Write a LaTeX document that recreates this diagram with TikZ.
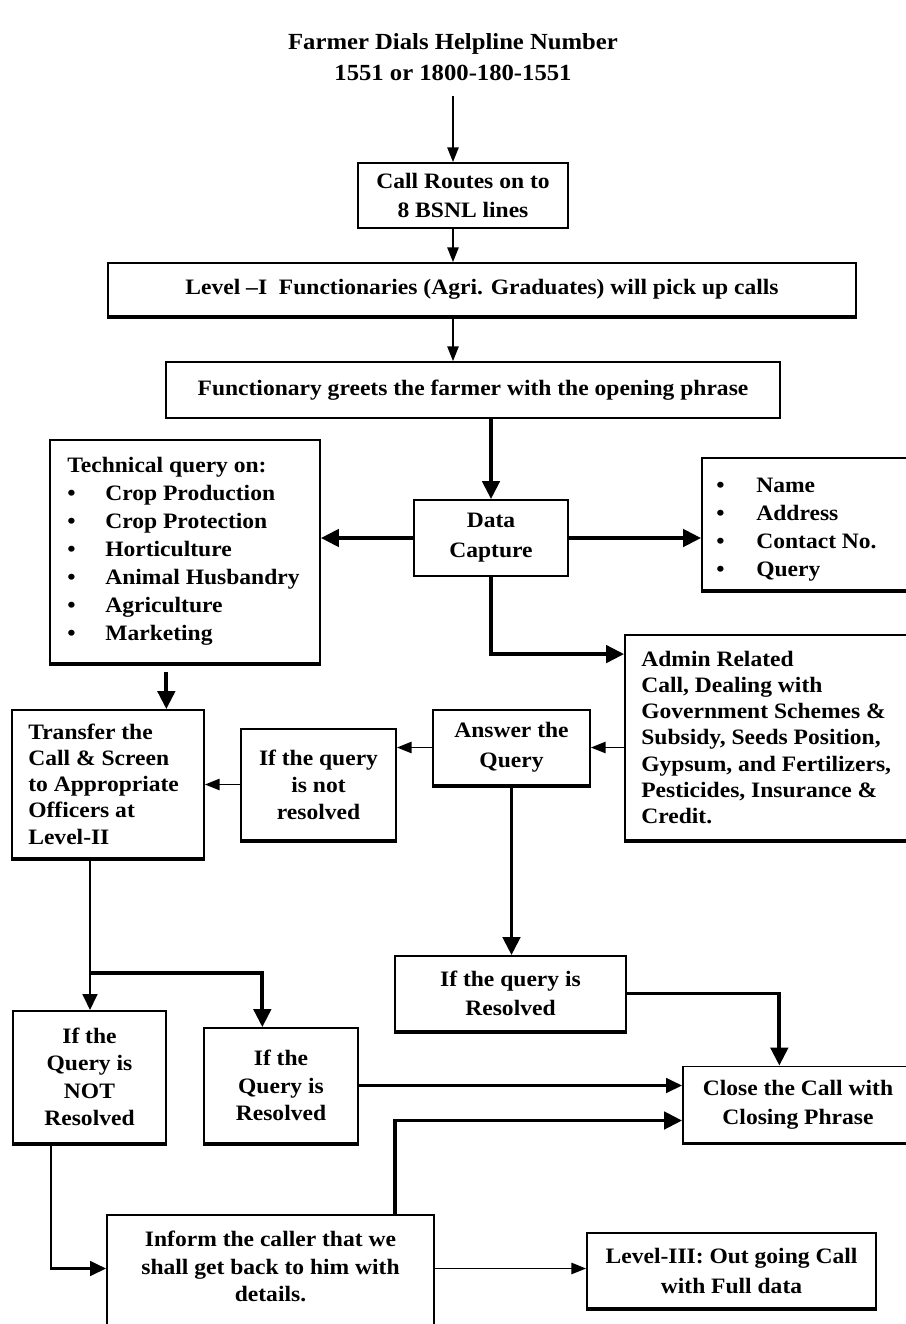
\documentclass[tikz,border=0pt]{standalone}
\usepackage{fontspec}
\setmainfont{Liberation Serif}[FakeStretch=1.07]
\usetikzlibrary{arrows.meta}
\newcommand\fsz[1]{\fontsize{16.5}{#1}\selectfont\bfseries}
\newcommand\bul[1]{\makebox[#1][l]{\textbullet}}
\begin{document}
\begin{tikzpicture}[x=0.75pt,y=-0.75pt,
  box/.style={draw, line width=1.4pt, inner sep=0pt, align=center, font=\fsz{20.5}},
  lbl/.style={inner sep=0pt, align=left, anchor=west},
  thinA/.style={line width=1.1pt, -{Triangle[length=11pt,width=8.5pt]}},
  medA/.style={line width=2pt, -{Triangle[length=12pt,width=11pt]}},
  thkA/.style={line width=2.8pt, -{Triangle[length=13.5pt,width=13pt]}}]
\path[use as bounding box, fill=white] (0,0) rectangle (906,1324);
\clip (0,0) rectangle (906,1324);

\node[font=\fontsize{17.3}{23}\selectfont\bfseries, align=center] (title) at (453,57)
  {Farmer Dials Helpline Number\\1551 or 1800-180-1551};
\coordinate (start) at (453,96);

\node[box, minimum width=157.5pt, minimum height=48.75pt, font=\fsz{22}] (routes) at (463,195.5)
  {Call Routes on to\\8 BSNL lines};
\node[box, minimum width=561pt, minimum height=39.75pt] (level1) at (482,289.5)
  {Level –I\ \ Functionaries (Agri. Graduates) will pick up calls};
\node[box, minimum width=460.5pt, minimum height=42pt] (greets) at (473,390)
  {Functionary greets the farmer with the opening phrase};
\node[box, minimum width=115.5pt, minimum height=57pt, font=\fsz{22.5}] (data) at (491,538)
  {Data\\Capture};

\node[box, minimum width=202.5pt, minimum height=167.25pt] (tech) at (185,551.5) {};
\node[lbl, font=\fsz{21}] (techtxt) at ([xshift=13.5pt]tech.west)
  {Technical query on:\\\bul{28.5pt}Crop Production\\\bul{28.5pt}Crop Protection\\\bul{28.5pt}Horticulture\\\bul{28.5pt}Animal Husbandry\\\bul{28.5pt}Agriculture\\\bul{28.5pt}Marketing};

\node[box, minimum width=163.5pt, minimum height=99pt] (name) at (811,524) {};
\node[lbl, font=\fsz{21}] (nametxt) at ([xshift=11.25pt,yshift=-4.5pt]name.west)
  {\bul{30pt}Name\\\bul{30pt}Address\\\bul{30pt}Contact No.\\\bul{30pt}Query};

\node[box, minimum width=221.25pt, minimum height=153.75pt] (admin) at (772.5,737.5) {};
\node[lbl, font=\fsz{19.7}] (admintxt) at ([xshift=12.75pt]admin.west)
  {Admin Related\\Call, Dealing with\\Government Schemes \&\\Subsidy, Seeds Position,\\Gypsum, and Fertilizers,\\Pesticides, Insurance \&\\Credit.};

\node[box, minimum width=117.75pt, minimum height=56.25pt, font=\fsz{22.5}] (answer) at (511.5,747.5)
  {Answer the\\Query};
\node[box, minimum width=116.25pt, minimum height=83.25pt, font=\fsz{20.25}] (notres) at (318.5,784.5)
  {If the query\\is not\\resolved};

\node[box, minimum width=144pt, minimum height=111pt] (transfer) at (108,784) {};
\node[lbl, font=\fsz{19.7}] (transfertxt) at ([xshift=12.75pt]transfer.west)
  {Transfer the\\Call \& Screen\\to Appropriate\\Officers at\\Level-II};

\node[box, minimum width=173.25pt, minimum height=56.25pt, font=\fsz{21.75}] (midres) at (510.5,993.5)
  {If the query is\\Resolved};
\node[box, minimum width=114.75pt, minimum height=99pt] (notQ) at (89.5,1077)
  {If the\\Query is\\NOT\\Resolved};
\node[box, minimum width=115.5pt, minimum height=86.25pt, font=\fsz{20.6}] (resQ) at (281,1085.5)
  {If the\\Query is\\Resolved};
\node[box, minimum width=172.5pt, minimum height=57pt, font=\fsz{22}] (close) at (798,1104.5)
  {Close the Call with\\Closing Phrase};
\node[box, minimum width=245.25pt, minimum height=86.25pt] (inform) at (270.5,1272.5) {};
\node[inner sep=0pt, align=center, font=\fsz{20.6}] (informtxt) at ([yshift=4.5pt]inform.center)
  {Inform the caller that we\\shall get back to him with\\details.};
\node[box, minimum width=216.75pt, minimum height=56.25pt, font=\fsz{22.5}] (level3) at (731.5,1270.5)
  {Level-III: Out going Call\\with Full data};

\foreach \n in {level1,tech,name,admin,answer,notres,transfer,midres,notQ,resQ,close,level3}
  \draw[line width=2.4pt] (\n.south west) -- (\n.south east);

% connectors
\draw[thinA] (start) -- (routes.north -| start);
\draw[thinA] (routes.south -| start) -- (level1.north -| start);
\draw[thinA] (level1.south -| start) -- (greets.north -| start);
\draw[thkA] (greets.south -| data) -- (data.north);
\draw[thkA] (data.west) -- (tech.east |- data.west);
\draw[thkA] (data.east) -- (name.west |- data.east);
\draw[thkA] (data.south) |- ([yshift=-15pt]admin.north west);
\draw[thkA] ([xshift=-14pt,yshift=-6pt]tech.south) -- ([xshift=-14pt]tech.south |- transfer.north);
\draw[thinA] (admin.west |- answer.east) -- (answer.east);
\draw[thinA] (answer.west) -- (notres.east |- answer.west);
\draw[thinA] (notres.west) -- (transfer.east |- notres.west);
\coordinate (split) at (90,973);
\draw[medA] (transfer.south -| split) -- (notQ.north -| split);
\draw[thkA] (split) -| ([xshift=-14pt]resQ.north);
\draw[thkA] (answer.south) -- (answer.south |- midres.north);
\draw[thkA] (midres.east) -| ([xshift=-14pt]close.north);
\draw[medA] (resQ.east) -- (close.west |- resQ.east);
\draw[thkA] ([xshift=93.4pt]inform.north) |- ([yshift=-12pt]close.west);
\draw[medA] ([xshift=-28.9pt]notQ.south) |- ([yshift=3pt]inform.west);
\draw[thinA] ([yshift=3pt]inform.east) -- ([yshift=3pt]inform.east -| level3.west);
\end{tikzpicture}
\end{document}
